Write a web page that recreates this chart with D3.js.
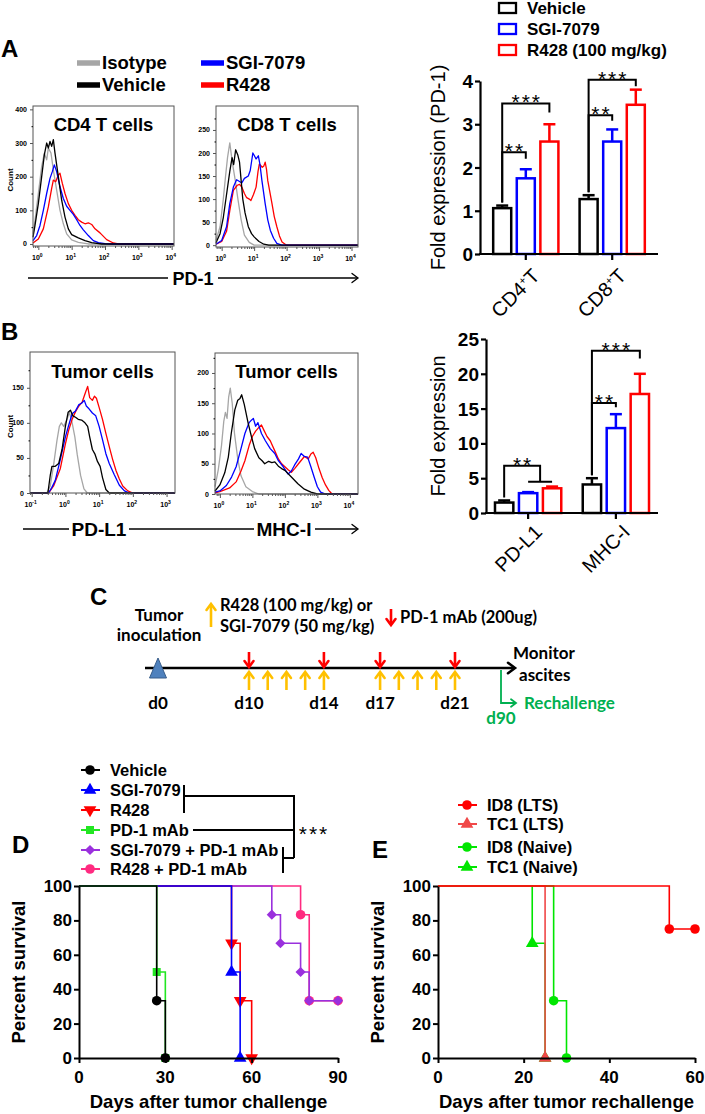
<!DOCTYPE html>
<html><head><meta charset="utf-8">
<script src="https://cdn.jsdelivr.net/npm/d3@7"></script>
<style>body{margin:0;background:#fff}svg{display:block}</style>
</head><body>
<svg id="fig" width="705" height="1114"></svg>
<script>
// ================= DATA =================
// Flow histograms: [log10 intensity, count]
const histLegend = ["Isotype", "Vehicle", "SGI-7079", "R428"];
const histColors = ["#a6a6a6", "#000000", "#0000ff", "#ff0000"];

const cd4Isotype = [[-0.16,30],[-0.1,70],[0,150],[0.1,230],[0.18,270],[0.25,250],[0.3,285],[0.38,270],[0.45,220],[0.55,160],[0.65,100],[0.75,60],[0.85,30],[1.0,12],[1.2,5],[1.5,0],[4.07,0]];
const cd4Vehicle = [[-0.16,20],[-0.1,55],[0,120],[0.1,200],[0.18,265],[0.25,300],[0.3,285],[0.35,305],[0.4,290],[0.45,310],[0.5,270],[0.6,200],[0.7,130],[0.8,80],[0.9,45],[1.0,28],[1.2,18],[1.4,10],[1.6,4],[1.9,0],[4.07,0]];
const cd4SGI = [[-0.16,10],[-0.05,25],[0.05,55],[0.15,100],[0.25,150],[0.35,195],[0.42,215],[0.48,235],[0.55,215],[0.65,170],[0.75,135],[0.85,112],[0.95,100],[1.05,88],[1.15,72],[1.25,55],[1.35,42],[1.5,25],[1.65,10],[1.8,4],[2.0,1],[2.2,0],[4.07,0]];
const cd4R428 = [[-0.16,3],[0,15],[0.15,45],[0.3,110],[0.4,165],[0.45,190],[0.52,185],[0.6,205],[0.65,210],[0.72,180],[0.8,150],[0.9,120],[1.0,100],[1.1,85],[1.2,72],[1.3,65],[1.4,60],[1.5,63],[1.6,58],[1.7,45],[1.85,33],[2.05,13],[2.25,3],[2.4,0],[4.07,0]];

const cd8Isotype = [[-0.175,10],[-0.05,40],[0.05,100],[0.12,150],[0.18,190],[0.25,222],[0.3,195],[0.35,170],[0.42,140],[0.5,100],[0.6,55],[0.7,22],[0.85,6],[1.0,0],[4.2,0]];
const cd8Vehicle = [[-0.175,5],[-0.05,25],[0.05,60],[0.15,110],[0.25,160],[0.32,190],[0.37,175],[0.43,207],[0.5,195],[0.55,180],[0.6,140],[0.65,100],[0.72,70],[0.82,40],[0.92,25],[1.0,18],[1.15,8],[1.3,2],[1.45,0],[4.2,0]];
const cd8SGI = [[-0.175,2],[0,10],[0.15,40],[0.25,90],[0.36,126],[0.46,142],[0.55,138],[0.62,135],[0.7,145],[0.75,147],[0.82,150],[0.88,162],[0.96,200],[1.0,195],[1.06,187],[1.13,194],[1.18,175],[1.24,140],[1.34,90],[1.42,55],[1.5,32],[1.6,15],[1.7,4],[1.85,0],[4.2,0]];
const cd8R428 = [[-0.175,2],[0,8],[0.15,30],[0.25,75],[0.36,119],[0.48,130],[0.55,132],[0.62,126],[0.7,112],[0.77,103],[0.85,100],[0.9,97],[0.98,110],[1.06,126],[1.12,160],[1.16,176],[1.25,169],[1.3,172],[1.34,180],[1.38,165],[1.42,140],[1.55,90],[1.62,62],[1.7,40],[1.78,20],[1.86,7],[2.0,0],[4.2,0]];

const pdl1Isotype = [[-1.05,0],[-0.55,0],[-0.45,10],[-0.35,40],[-0.25,75],[-0.18,95],[-0.12,100],[-0.05,95],[0.05,105],[0.12,115],[0.2,100],[0.28,80],[0.35,55],[0.45,25],[0.55,6],[0.65,0],[3.25,0]];
const pdl1Vehicle = [[-1.05,0],[-0.52,0],[-0.45,25],[-0.4,38],[-0.3,38],[-0.2,42],[-0.1,62],[0.0,95],[0.08,115],[0.15,118],[0.22,110],[0.3,108],[0.38,105],[0.48,104],[0.58,100],[0.66,95],[0.72,80],[0.8,62],[0.88,55],[0.95,45],[1.03,38],[1.1,22],[1.2,5],[1.3,0],[3.25,0]];
const pdl1SGI = [[-1.05,0],[-0.5,0],[-0.4,8],[-0.3,18],[-0.15,48],[0,80],[0.1,97],[0.2,113],[0.3,117],[0.4,126],[0.48,128],[0.56,132],[0.62,124],[0.7,120],[0.8,114],[0.9,110],[1.0,95],[1.1,76],[1.2,56],[1.3,42],[1.45,26],[1.6,11],[1.75,3],[1.9,0],[3.25,0]];
const pdl1R428 = [[-1.05,0],[-0.5,0],[-0.35,10],[-0.15,35],[0,70],[0.1,90],[0.2,105],[0.3,116],[0.4,124],[0.5,130],[0.6,144],[0.66,152],[0.72,136],[0.8,132],[0.86,138],[0.92,135],[1.0,122],[1.1,105],[1.2,85],[1.3,66],[1.4,48],[1.5,32],[1.6,20],[1.7,10],[1.85,3],[2.0,0],[3.25,0]];

const mhcIsotype = [[-0.15,12],[-0.05,40],[0.05,80],[0.12,120],[0.17,135],[0.22,125],[0.27,160],[0.32,175],[0.38,150],[0.45,100],[0.55,58],[0.65,30],[0.8,12],[1.0,4],[1.2,0],[4.25,0]];
const mhcVehicle = [[-0.15,5],[0,15],[0.15,35],[0.26,61],[0.35,100],[0.46,139],[0.55,155],[0.62,158],[0.67,164],[0.75,148],[0.87,117],[0.97,95],[1.07,75],[1.2,60],[1.3,55],[1.38,50],[1.5,54],[1.6,52],[1.69,53],[1.8,46],[1.9,42],[2.0,39],[2.2,28],[2.4,17],[2.6,8],[2.8,3],[3.0,0],[4.25,0]];
const mhcSGI = [[-0.15,3],[0,5],[0.2,14],[0.36,28],[0.5,45],[0.65,75],[0.77,100],[0.9,118],[0.97,122],[1.03,125],[1.1,112],[1.17,118],[1.28,100],[1.4,88],[1.55,75],[1.69,67],[1.8,55],[1.95,45],[2.1,33],[2.2,38],[2.3,48],[2.42,58],[2.5,67],[2.6,62],[2.7,61],[2.8,45],[2.9,28],[3.0,12],[3.1,3],[3.25,0],[4.25,0]];
const mhcR428 = [[-0.15,2],[0,4],[0.3,10],[0.5,20],[0.65,38],[0.77,55],[0.9,80],[1.0,95],[1.1,104],[1.2,110],[1.28,114],[1.35,106],[1.45,95],[1.55,88],[1.7,70],[1.8,58],[1.9,50],[2.0,45],[2.1,40],[2.2,36],[2.3,42],[2.45,52],[2.6,62],[2.72,58],[2.8,66],[2.87,69],[2.95,60],[3.05,42],[3.15,27],[3.25,15],[3.35,6],[3.45,0],[4.25,0]];

const cd4YTicks = [0,100,200,300,400];
const cd8YTicks = [0,50,100,150,200,250];
const pdl1YTicks = [0,50,100,150];
const mhcYTicks = [0,50,100,150,200];

// Bar charts
const barSeries = ["Vehicle", "SGI-7079", "R428 (100 mg/kg)"];
const barColors = ["#000000", "#0000ff", "#ff0000"];
const pd1Groups = ["CD4", "CD8"];
const pd1Mean = [[1.06, 1.75, 2.6], [1.27, 2.6, 3.45]];
const pd1Sem  = [[0.06, 0.21, 0.4], [0.09, 0.28, 0.35]];
const pd1Ticks = [0, 1, 2, 3, 4];
const pd1Sig = [
  {g:0, to:[1], top:2.35, end:2.2, label:"**"},
  {g:0, to:[2], top:3.48, end:3.27, label:"***"},
  {g:1, to:[1], top:3.21, end:3.08, label:"**"},
  {g:1, to:[2], top:4.03, end:3.88, label:"***"}
];
const tumGroups = ["PD-L1", "MHC-I"];
const tumMean = [[1.5, 2.85, 3.55], [4.1, 12.2, 17.1]];
const tumSem  = [[0.3, 0.15, 0.25], [0.9, 2.0, 2.9]];
const tumTicks = [0, 5, 10, 15, 20, 25];
const tumSig = [
  {g:0, to:[1,2], top:6.8, end:4.5, label:"**"},
  {g:1, to:[1], top:15.8, end:15.2, label:"**"},
  {g:1, to:[2], top:23.3, end:22.2, label:"***"}
];

// Schedule (panel C)
const drugDays = [10, 11, 12, 13, 14, 17, 18, 19, 20, 21];
const mAbDays = [10, 14, 17, 21];
const dayLabels = [0, 10, 14, 17, 21];

// Survival (panel D)
const survD = [
  {name:"R428 + PD-1 mAb",     color:"#ff2a80", sym:"circle",  t:[0,77,80,90],       p:[100,83.3,33.3,33.3]},
  {name:"SGI-7079 + PD-1 mAb", color:"#9a30dd", sym:"diamond", t:[0,67,70,77,80,90], p:[100,83.3,66.7,50,33.3,33.3]},
  {name:"R428",                color:"#ff0000", sym:"tridown", t:[0,53,56,60],       p:[100,66.7,33.3,0]},
  {name:"SGI-7079",            color:"#0000ff", sym:"triangle",t:[0,53,56],          p:[100,50,0]},
  {name:"PD-1 mAb",            color:"#22e622", sym:"square",  t:[0,27,30],          p:[100,50,0]},
  {name:"Vehicle",             color:"#000000", sym:"circle",  t:[0,27,30],          p:[100,33.3,0]}
];
const legendDOrder = ["Vehicle","SGI-7079","R428","PD-1 mAb","SGI-7079 + PD-1 mAb","R428 + PD-1 mAb"];
const xTicksD = [0, 30, 60, 90];

// Survival (panel E)
const survE = [
  {name:"TC1 (Naive)", color:"#00e600", sym:"triangle", t:[0,22,25], p:[100,66.7,0]},
  {name:"ID8 (Naive)", color:"#00e600", sym:"circle",   t:[0,27,30], p:[100,33.3,0]},
  {name:"TC1 (LTS)",   color:"#f04848", sym:"triangle", t:[0,25],    p:[100,0]},
  {name:"ID8 (LTS)",   color:"#ff0000", sym:"circle",   t:[0,54,60], p:[100,75,75]}
];
const legendEOrder = ["ID8 (LTS)","TC1 (LTS)","ID8 (Naive)","TC1 (Naive)"];
const xTicksE = [0, 20, 40, 60];
const yTicksSurv = [0, 20, 40, 60, 80, 100];

// ================= DRAWING =================
const svg = d3.select("#fig");
const ARIAL = "'Liberation Sans', Arial, Helvetica, sans-serif";
const CALI = "Lato, 'Open Sans', sans-serif";

function txt(g, x, y, s, o = {}) {
  const t = g.append("text").attr("x", x).attr("y", y).text(s)
    .attr("font-family", o.family || ARIAL).attr("font-size", o.size || 16)
    .attr("font-weight", o.weight || "bold").attr("fill", o.fill || "#000")
    .attr("text-anchor", o.anchor || "start");
  if (o.transform) t.attr("transform", o.transform);
  if (o.ls) t.attr("letter-spacing", o.ls);
  return t;
}

// panel letters
txt(svg, 1, 57, "A", {size: 24});
txt(svg, 1, 340, "B", {size: 24});
txt(svg, 90, 605, "C", {size: 24});
txt(svg, 12, 853, "D", {size: 24});
txt(svg, 372, 858, "E", {size: 24});

// ---------- histogram legend (A) ----------
{
  const g = svg.append("g");
  const rows = [[0, 77, 66], [1, 77, 88], [2, 201, 66], [3, 201, 88]];
  rows.forEach(([i, x, y]) => {
    g.append("line").attr("x1", x).attr("x2", x + 23).attr("y1", y - 3).attr("y2", y - 3)
      .attr("stroke", histColors[i]).attr("stroke-width", 5.5);
    txt(g, x + 25, y + 3, histLegend[i], {size: 18.5});
  });
}

function drawHist(cfg) {
  const g = svg.append("g");
  const x = d3.scaleLinear().domain(cfg.xDom).range([cfg.x0, cfg.x1]);
  const y = d3.scaleLinear().domain(cfg.yDom).range([cfg.y1, cfg.y0]);
  const line = d3.line().x(d => x(d[0])).y(d => y(d[1]));
  const order = [0, 3, 2, 1];
  order.forEach(i => {
    g.append("path").datum(cfg.series[i]).attr("d", line).attr("fill", "none")
      .attr("stroke", histColors[i]).attr("stroke-width", 1.3).attr("stroke-linejoin", "round");
  });
  g.append("rect").attr("x", cfg.x0).attr("y", cfg.y0).attr("width", cfg.x1 - cfg.x0)
    .attr("height", cfg.y1 - cfg.y0).attr("fill", "none").attr("stroke", "#555").attr("stroke-width", 1);
  // log x ticks
  const majors = d3.range(Math.ceil(cfg.xDom[0]), Math.floor(cfg.xDom[1]) + 1);
  const minors = [];
  for (let n = Math.floor(cfg.xDom[0]); n <= cfg.xDom[1]; n++)
    for (let k = 2; k < 10; k++) { const v = n + Math.log10(k); if (v > cfg.xDom[0] && v < cfg.xDom[1]) minors.push(v); }
  const xa = g.append("g").attr("transform", `translate(0,${cfg.y1})`);
  xa.call(d3.axisBottom(x).tickValues(minors).tickSize(2).tickFormat("")).call(s => s.select(".domain").remove());
  const xb = g.append("g").attr("transform", `translate(0,${cfg.y1})`);
  xb.call(d3.axisBottom(x).tickValues(majors).tickSize(4).tickFormat("")).call(s => s.select(".domain").remove());
  g.selectAll(".tick line").attr("stroke", "#555");
  majors.forEach(v => {
    const t = g.append("text").attr("x", x(v) - 1).attr("y", cfg.y1 + 14).attr("text-anchor", "middle")
      .attr("font-family", ARIAL).attr("font-size", 7).attr("font-weight", "bold");
    t.append("tspan").text("10");
    t.append("tspan").attr("dy", -3).attr("font-size", 5).text(v);
  });
  // y ticks
  const ya = g.append("g").attr("transform", `translate(${cfg.x0},0)`);
  ya.call(d3.axisLeft(y).tickValues(cfg.yTicks).tickSize(3).tickFormat(""))
    .call(s => s.select(".domain").remove());
  ya.selectAll(".tick line").attr("stroke", "#555");
  const step = cfg.yTicks[1] - cfg.yTicks[0];
  const yMinor = d3.range(step / 2, cfg.yDom[1], step);
  const ym = g.append("g").attr("transform", `translate(${cfg.x0},0)`);
  ym.call(d3.axisLeft(y).tickValues(yMinor).tickSize(1.5).tickFormat("")).call(s => s.select(".domain").remove());
  cfg.yTicks.forEach(v => {
    txt(g, cfg.x0 - 6, y(v) + 2.5, v, {size: 7, anchor: "end"});
  });
  txt(g, (cfg.x0 + cfg.x1) / 2, cfg.titleY, cfg.title, {size: 18.5, anchor: "middle"});
  if (cfg.count) txt(g, 0, 0, "Count", {size: 8, anchor: "middle", transform: `translate(13,${(cfg.y0 + cfg.y1) / 2 + 4}) rotate(-90)`});
}

drawHist({x0: 33, x1: 174, y0: 106, y1: 246, xDom: [-0.16, 4.07], yDom: [-6, 410], yTicks: cd4YTicks,
  series: [cd4Isotype, cd4Vehicle, cd4SGI, cd4R428], title: "CD4 T cells", titleY: 131, count: true});
drawHist({x0: 216, x1: 358, y0: 106, y1: 247, xDom: [-0.175, 4.2], yDom: [-4, 302], yTicks: cd8YTicks,
  series: [cd8Isotype, cd8Vehicle, cd8SGI, cd8R428], title: "CD8 T cells", titleY: 131, count: false});
drawHist({x0: 30, x1: 175, y0: 352, y1: 493, xDom: [-1.05, 3.25], yDom: [0, 201], yTicks: pdl1YTicks,
  series: [pdl1Isotype, pdl1Vehicle, pdl1SGI, pdl1R428], title: "Tumor cells", titleY: 378, count: true});
drawHist({x0: 215, x1: 358, y0: 353, y1: 494, xDom: [-0.15, 4.25], yDom: [0, 233], yTicks: mhcYTicks,
  series: [mhcIsotype, mhcVehicle, mhcSGI, mhcR428], title: "Tumor cells", titleY: 378, count: false});

// marker axis arrows
function arrowHead(g, x, y, dir, size, color, w) {
  const d = dir === "right" ? `M${x - size},${y - size * 0.75}L${x},${y}L${x - size},${y + size * 0.75}` :
            dir === "up" ? `M${x - size * 0.75},${y + size}L${x},${y}L${x + size * 0.75},${y + size}` :
            `M${x - size * 0.75},${y - size}L${x},${y}L${x + size * 0.75},${y - size}`;
  g.append("path").attr("d", d).attr("fill", "none").attr("stroke", color).attr("stroke-width", w)
    .attr("stroke-linecap", "round").attr("stroke-linejoin", "miter");
}
{
  const g = svg.append("g").attr("stroke", "#000").attr("stroke-width", 1.3);
  g.append("line").attr("x1", 28).attr("x2", 168).attr("y1", 278).attr("y2", 278);
  g.append("line").attr("x1", 218).attr("x2", 357).attr("y1", 278).attr("y2", 278);
  arrowHead(svg, 358, 278, "right", 6, "#000", 1.3);
  txt(svg, 193, 285, "PD-1", {size: 18, anchor: "middle"});
  const h = svg.append("g").attr("stroke", "#000").attr("stroke-width", 1.3);
  h.append("line").attr("x1", 23).attr("x2", 69).attr("y1", 529).attr("y2", 529);
  h.append("line").attr("x1", 129).attr("x2", 254).attr("y1", 529).attr("y2", 529);
  h.append("line").attr("x1", 315).attr("x2", 357).attr("y1", 529).attr("y2", 529);
  arrowHead(svg, 358, 529, "right", 6, "#000", 1.3);
  txt(svg, 99, 536, "PD-L1", {size: 19, anchor: "middle"});
  txt(svg, 284, 536, "MHC-I", {size: 19, anchor: "middle"});
}

// ---------- bar charts ----------
function drawBars(cfg) {
  const g = svg.append("g");
  const x0 = d3.scaleBand().domain(cfg.groups).range([cfg.xa, cfg.xb]).paddingInner(0.2).paddingOuter(cfg.po);
  const x1 = d3.scaleBand().domain(barSeries).range([0, x0.bandwidth()]).paddingInner(0.13).paddingOuter(0.03);
  const y = d3.scaleLinear().domain([0, cfg.yMax]).range([cfg.yb, cfg.yt]);
  const bw = x1.bandwidth();
  const cx = (gi, si) => x0(cfg.groups[gi]) + x1(barSeries[si]) + bw / 2;
  cfg.groups.forEach((grp, gi) => {
    barSeries.forEach((s, si) => {
      const m = cfg.mean[gi][si], e = cfg.sem[gi][si], c = cx(gi, si);
      g.append("line").attr("x1", c).attr("x2", c).attr("y1", y(m)).attr("y2", y(m + e))
        .attr("stroke", barColors[si]).attr("stroke-width", 2.5);
      g.append("line").attr("x1", c - 6).attr("x2", c + 6).attr("y1", y(m + e)).attr("y2", y(m + e))
        .attr("stroke", barColors[si]).attr("stroke-width", 2.5);
      g.append("rect").attr("x", c - bw / 2 + 1.25).attr("y", y(m)).attr("width", bw - 2.5)
        .attr("height", y(0) - y(m)).attr("fill", "#fff").attr("stroke", barColors[si]).attr("stroke-width", 2.5);
    });
  });
  // axes
  const ya = g.append("g").attr("transform", `translate(${cfg.xa},0)`);
  ya.call(d3.axisLeft(y).tickValues(cfg.ticks).tickSize(5).tickSizeOuter(0).tickFormat(""));
  ya.select(".domain").attr("stroke-width", 2.2);
  ya.selectAll(".tick line").attr("stroke-width", 2.2);
  cfg.ticks.forEach(v => txt(g, cfg.xa - 7, y(v) + 7, v, {size: 19, anchor: "end"}));
  g.append("line").attr("x1", cfg.xa - 1).attr("x2", cfg.xb).attr("y1", cfg.yb).attr("y2", cfg.yb)
    .attr("stroke", "#000").attr("stroke-width", 2.2);
  cfg.groups.forEach((grp, gi) => {
    const c = x0(grp) + x0.bandwidth() / 2;
    g.append("line").attr("x1", c).attr("x2", c).attr("y1", cfg.yb).attr("y2", cfg.yb + 6)
      .attr("stroke", "#000").attr("stroke-width", 2.2);
    const t = g.append("text").attr("transform", `translate(${c + 5},${cfg.yb + cfg.labDy}) rotate(-45)`)
      .attr("text-anchor", "end").attr("dy", "0.72em").attr("font-family", ARIAL).attr("font-size", 20);
    if (cfg.sup) {
      t.append("tspan").text(grp);
      t.append("tspan").attr("dy", -7).attr("font-size", 11).text("+");
      t.append("tspan").attr("dy", 7).text("T");
    } else t.text(grp);
  });
  txt(g, 0, 0, cfg.ylabel, {size: 20, weight: "normal", anchor: "middle",
    transform: `translate(${cfg.ylabX},${(cfg.yb + cfg.yt) / 2}) rotate(-90)`});
  // significance brackets
  cfg.sig.forEach(b => {
    const xl = cx(b.g, 0);
    const start = cfg.mean[b.g][0] + cfg.sem[b.g][0];
    const tx = b.to.map(si => cx(b.g, si));
    const xr = d3.mean(tx);
    const path = `M${xl},${y(start) - 3}V${y(b.top)}H${xr}V${y(b.end)}` +
      (tx.length > 1 ? `M${d3.min(tx)},${y(b.end)}H${d3.max(tx)}` : "");
    g.append("path").attr("d", path).attr("fill", "none").attr("stroke", "#000").attr("stroke-width", 2);
    txt(g, (xl + xr) / 2 + 1, y(b.top) + 6, b.label, {size: 21, weight: "normal", anchor: "middle", ls: 2});
  });
}

drawBars({groups: pd1Groups, mean: pd1Mean, sem: pd1Sem, sig: pd1Sig, yMax: 4, ticks: pd1Ticks,
  xa: 480, xb: 658, po: 0.13, yb: 254, yt: 81, ylabel: "Fold expression (PD-1)", ylabX: 445, sup: true, labDy: 13});
drawBars({groups: tumGroups, mean: tumMean, sem: tumSem, sig: tumSig, yMax: 25, ticks: tumTicks,
  xa: 486, xb: 658, po: 0.08, yb: 513, yt: 339, ylabel: "Fold expression", ylabX: 445, sup: false, labDy: 10});

// bar legend
{
  const g = svg.append("g");
  barSeries.forEach((s, i) => {
    const cy = 8 + i * 21;
    g.append("rect").attr("x", 499).attr("y", cy - 5).attr("width", 17).attr("height", 10)
      .attr("fill", "#fff").attr("stroke", barColors[i]).attr("stroke-width", 2.3);
    txt(g, 527, cy + 6, s, {size: 17});
  });
}

// ---------- panel C: schedule ----------
{
  const g = svg.append("g");
  const day = d3.scaleLinear().domain([0, 10, 21]).range([158, 249, 455]);
  const yLine = 668;
  g.append("line").attr("x1", 145).attr("x2", 514).attr("y1", yLine).attr("y2", yLine)
    .attr("stroke", "#000").attr("stroke-width", 2.6);
  arrowHead(g, 515, yLine, "right", 7, "#000", 2.6);
  const x0 = day(0);
  g.append("path").attr("d", `M${x0},658L${x0 + 8.5},678L${x0 - 8.5},678Z`)
    .attr("fill", "#4f81bd").attr("stroke", "#385d8a").attr("stroke-width", 1);
  mAbDays.forEach(d => {
    const x = day(d);
    g.append("line").attr("x1", x).attr("x2", x).attr("y1", 652).attr("y2", 666)
      .attr("stroke", "#ff0000").attr("stroke-width", 2.6);
    arrowHead(g, x, 667, "down", 6, "#ff0000", 2.6);
  });
  drugDays.forEach(d => {
    const x = day(d);
    g.append("line").attr("x1", x).attr("x2", x).attr("y1", 673).attr("y2", 690)
      .attr("stroke", "#ffc000").attr("stroke-width", 2.6);
    arrowHead(g, x, 672, "up", 6, "#ffc000", 2.6);
  });
  dayLabels.forEach(d => txt(g, day(d), 709, "d" + d, {family: CALI, size: 17, anchor: "middle"}));
  txt(g, 159, 621, "Tumor", {family: CALI, size: 17, anchor: "middle"});
  txt(g, 159, 641, "inoculation", {family: CALI, size: 17, anchor: "middle"});
  g.append("line").attr("x1", 211).attr("x2", 211).attr("y1", 605).attr("y2", 627)
    .attr("stroke", "#ffc000").attr("stroke-width", 2.6);
  arrowHead(g, 211, 604, "up", 6, "#ffc000", 2.6);
  txt(g, 220, 611, "R428 (100 mg/kg) or", {family: CALI, size: 16.5});
  txt(g, 220, 632, "SGI-7079 (50 mg/kg)", {family: CALI, size: 16.5});
  g.append("line").attr("x1", 391).attr("x2", 391).attr("y1", 609).attr("y2", 624)
    .attr("stroke", "#ff0000").attr("stroke-width", 2.6);
  arrowHead(g, 391, 625, "down", 6, "#ff0000", 2.6);
  txt(g, 400, 623, "PD-1 mAb (200ug)", {family: CALI, size: 16.5});
  txt(g, 513, 659, "Monitor", {family: CALI, size: 17});
  txt(g, 519, 681, "ascites", {family: CALI, size: 17});
  g.append("path").attr("d", "M501,670V703H515").attr("fill", "none").attr("stroke", "#00b050").attr("stroke-width", 1.8);
  arrowHead(g, 516, 703, "right", 5, "#00b050", 1.8);
  txt(g, 524, 709, "Rechallenge", {family: CALI, size: 17, fill: "#00b050"});
  txt(g, 501, 724, "d90", {family: CALI, size: 17, fill: "#00b050", anchor: "middle"});
}

// ---------- survival plots ----------
function symPath(sym, size) {
  const map = {circle: d3.symbolCircle, triangle: d3.symbolTriangle, tridown: d3.symbolTriangle,
               square: d3.symbolSquare, diamond: d3.symbolSquare};
  return d3.symbol().type(map[sym]).size(size)();
}
function symRot(sym) { return sym === "tridown" ? 180 : sym === "diamond" ? 45 : 0; }
function symSize(sym) { return sym === "circle" ? 72 : sym === "square" ? 64 : sym === "diamond" ? 52 : 70; }
function drawMarker(g, x, y, s, color) {
  g.append("path").attr("d", symPath(s, symSize(s))).attr("fill", color)
    .attr("transform", `translate(${x},${y}) rotate(${symRot(s)})`);
}

function drawSurv(cfg) {
  const g = svg.append("g");
  const x = d3.scaleLinear().domain(cfg.xDom).range([cfg.x0, cfg.x1]);
  const y = d3.scaleLinear().domain([0, 100]).range([1058, 886]);
  const line = d3.line().x(d => x(d[0])).y(d => y(d[1])).curve(d3.curveStepAfter);
  cfg.series.forEach(s => {
    const pts = s.t.map((t, i) => [t, s.p[i]]);
    g.append("path").datum(pts).attr("d", line).attr("fill", "none").attr("stroke", s.color).attr("stroke-width", 1.6);
    pts.slice(1).forEach(d => drawMarker(g, x(d[0]), y(d[1]), s.sym, s.color));
  });
  const ya = g.append("g").attr("transform", `translate(${cfg.x0},0)`);
  ya.call(d3.axisLeft(y).tickValues(yTicksSurv).tickSize(5).tickSizeOuter(0).tickFormat(""));
  ya.select(".domain").attr("stroke-width", 2);
  ya.selectAll(".tick line").attr("stroke-width", 2);
  yTicksSurv.forEach(v => txt(g, cfg.x0 - 7, y(v) + 6, v, {size: 17, anchor: "end"}));
  const xa = g.append("g").attr("transform", `translate(0,1058)`);
  xa.call(d3.axisBottom(x).tickValues(cfg.xTicks).tickSize(5).tickSizeOuter(0).tickFormat(""));
  xa.select(".domain").attr("stroke-width", 2);
  xa.selectAll(".tick line").attr("stroke-width", 2);
  cfg.xTicks.forEach(v => txt(g, x(v), 1083, v, {size: 17, anchor: "middle"}));
  txt(g, (cfg.x0 + cfg.x1) / 2, 1108, cfg.xlabel, {size: 18.5, anchor: "middle"});
  txt(g, 0, 0, "Percent survival", {size: 18.5, anchor: "middle",
    transform: `translate(${cfg.x0 - 54},972) rotate(-90)`});
  cfg.legend.forEach((name, i) => {
    const s = cfg.series.find(d => d.name === name);
    const cy = cfg.legY[i];
    g.append("line").attr("x1", cfg.legX - 9).attr("x2", cfg.legX + 10).attr("y1", cy).attr("y2", cy)
      .attr("stroke", s.color).attr("stroke-width", 2);
    drawMarker(g, cfg.legX, cy, s.sym, s.color);
    txt(g, cfg.legX + 20, cy + 6, name, {size: 16.5});
  });
}

drawSurv({series: survD, xDom: [0, 90], x0: 79, x1: 338, xTicks: xTicksD, xlabel: "Days after tumor challenge",
  legend: legendDOrder, legX: 90, legY: [770, 790, 810, 830, 850, 869]});
drawSurv({series: survE, xDom: [0, 60], x0: 438, x1: 695, xTicks: xTicksE, xlabel: "Days after tumor rechallenge",
  legend: legendEOrder, legX: 467, legY: [805, 824, 847, 867]});

// D significance bracket
{
  const g = svg.append("g").attr("fill", "none").attr("stroke", "#000").attr("stroke-width", 2);
  g.append("path").attr("d", "M184,785V813M184,796H294V858M193,830H294M283,847V873M283,858H294");
  txt(svg, 314, 841, "***", {size: 21, weight: "normal", anchor: "middle", ls: 2});
}
</script>
</body></html>
